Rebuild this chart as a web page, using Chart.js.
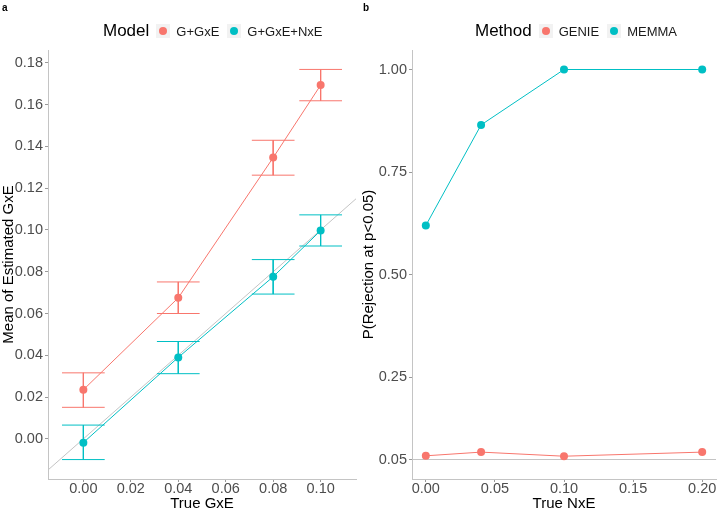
<!DOCTYPE html>
<html>
<head>
<meta charset="utf-8">
<script src="https://cdn.jsdelivr.net/npm/chart.js@4"></script>
<style>
  body { margin: 0; background: #fff; font-family: "Liberation Sans", Arial, sans-serif; }
  #wrap { position: relative; width: 720px; height: 509px; }
  canvas { position: absolute; top: 0; }
  .tag { position: absolute; top: 2px; font-size: 10px; font-weight: bold; }
  .leg { position: absolute; top: 21px; height: 20px; display: flex; align-items: center; white-space: nowrap; }
  .leg .ttl { font-size: 17px; margin-right: 7px; }
  .leg .key { width: 14px; height: 14px; background: #f2f2f2; position: relative; margin-right: 6px; }
  .leg .key i { position: absolute; left: 3px; top: 3px; width: 8px; height: 8px; border-radius: 50%; }
  .leg .lab { font-size: 13px; color: #1a1a1a; margin-right: 8px; }
</style>
</head>
<body>
<div id="wrap">
  <canvas id="grafA" width="360" height="509" style="left:0"></canvas>
  <canvas id="grafB" width="360" height="509" style="left:360px"></canvas>
  <div class="tag" style="left:2px">a</div>
  <div class="tag" style="left:363px">b</div>
  <div class="leg" style="left:103px">
    <span class="ttl">Model</span>
    <span class="key"><i style="background:#F8766D"></i></span><span class="lab">G+GxE</span>
    <span class="key"><i style="background:#00BFC4"></i></span><span class="lab">G+GxE+NxE</span>
  </div>
  <div class="leg" style="left:475px">
    <span class="ttl">Method</span>
    <span class="key"><i style="background:#F8766D"></i></span><span class="lab">GENIE</span>
    <span class="key"><i style="background:#00BFC4"></i></span><span class="lab">MEMMA</span>
  </div>
</div>
<script>
// panel a
var trueGxE = [0, 0.04, 0.08, 0.10];
var gGxE = [0.0235, 0.0675, 0.1346, 0.1693];
var gGxELo = [0.0151, 0.0600, 0.1262, 0.1618];
var gGxEHi = [0.0316, 0.0751, 0.1429, 0.1768];
var gGxENxE = [-0.0018, 0.0390, 0.0776, 0.0997];
var gGxENxELo = [-0.0099, 0.0312, 0.0693, 0.0923];
var gGxENxEHi = [0.0066, 0.0466, 0.0858, 0.1072];
var xTicksA = [0, 0.02, 0.04, 0.06, 0.08, 0.10];
var yTicksA = [0, 0.02, 0.04, 0.06, 0.08, 0.10, 0.12, 0.14, 0.16, 0.18];

// panel b
var trueNxE = [0, 0.04, 0.10, 0.20];
var genie = [0.059, 0.068, 0.058, 0.068];
var memma = [0.62, 0.865, 1.0, 1.0];
var xTicksB = [0, 0.05, 0.10, 0.15, 0.20];
var yTicksB = [0.05, 0.25, 0.50, 0.75, 1.00];
var alpha = 0.05;

var rojo = '#F8766D', cian = '#00BFC4', gris = '#C4C4C4';
var fuente = "'Liberation Sans', Arial, sans-serif";

function puntos(xs, ys) {
  return xs.map(function (x, i) { return { x: x, y: ys[i] }; });
}

// error bars as segments separated by gaps
function barras(xs, lo, hi, w) {
  var p = [];
  xs.forEach(function (x, i) {
    p.push({ x: x - w, y: hi[i] }, { x: x + w, y: hi[i] }, { x: x, y: null });
    p.push({ x: x, y: hi[i] }, { x: x, y: lo[i] }, { x: x, y: null });
    p.push({ x: x - w, y: lo[i] }, { x: x + w, y: lo[i] }, { x: x, y: null });
  });
  return p;
}

function serie(data, color, r) {
  return {
    data: data, borderColor: color, backgroundColor: color,
    borderWidth: 1, pointRadius: r, pointHoverRadius: r, pointBorderWidth: 0,
    showLine: true, spanGaps: false, tension: 0
  };
}

function eje(min, max, ticks, titulo, ancho, esY) {
  return {
    type: 'linear', min: min, max: max,
    afterBuildTicks: function (s) { s.ticks = ticks.map(function (v) { return { value: v }; }); },
    afterFit: function (s) { if (esY) { s.width = ancho; } else { s.height = ancho; } },
    grid: { drawOnChartArea: false, drawTicks: true, tickLength: 3, color: '#9a9a9a' },
    border: { display: true, color: gris, width: 1 },
    ticks: {
      padding: esY ? 2 : -2, color: '#4D4D4D', font: { family: fuente, size: 14.5 },
      callback: function (v) { return Number(v).toFixed(2); }
    },
    title: {
      display: true, text: titulo, color: '#000', font: { family: fuente, size: 15 },
      padding: esY ? 0 : { top: 0, bottom: -4 }
    }
  };
}

var opcionesBase = function (escalas, pad) {
  return {
    responsive: false, animation: false,
    layout: { padding: pad },
    plugins: { legend: { display: false }, tooltip: { enabled: false } },
    scales: escalas
  };
};

new Chart(document.getElementById('grafA').getContext('2d'), {
  type: 'scatter',
  data: {
    datasets: [
      serie(puntos(trueGxE, gGxE), rojo, 4),
      serie(puntos(trueGxE, gGxENxE), cian, 4),
      serie(barras(trueGxE, gGxELo, gGxEHi, 0.009), rojo, 0),
      serie(barras(trueGxE, gGxENxELo, gGxENxEHi, 0.009), cian, 0),
      serie(puntos([-0.0149, 0.1149], [-0.0149, 0.1149]), gris, 0)
    ]
  },
  options: opcionesBase({
    x: eje(-0.0149, 0.1149, xTicksA, 'True GxE', 30, false),
    y: eje(-0.0192, 0.1861, yTicksA, 'Mean of Estimated GxE', 48, true)
  }, { top: 50, right: 4, bottom: 0, left: 0 })
});

new Chart(document.getElementById('grafB').getContext('2d'), {
  type: 'scatter',
  data: {
    datasets: [
      serie(puntos(trueNxE, genie), rojo, 4),
      serie(puntos(trueNxE, memma), cian, 4),
      serie(puntos([-0.01, 0.21], [alpha, alpha]), gris, 0)
    ]
  },
  options: opcionesBase({
    x: eje(-0.01, 0.21, xTicksB, 'True NxE', 30, false),
    y: eje(0.0025, 1.0475, yTicksB, 'P(Rejection at p<0.05)', 52, true)
  }, { top: 50, right: 0, bottom: 0, left: 0 })
});
</script>
</body>
</html>
